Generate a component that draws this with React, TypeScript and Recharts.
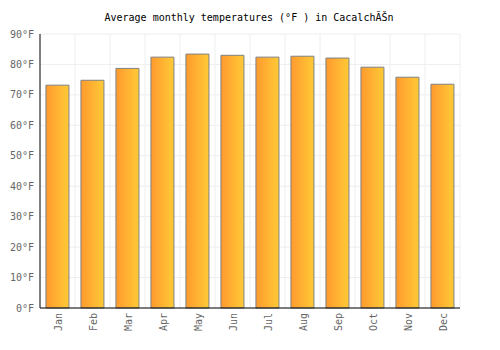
import { BarChart, Bar, XAxis, YAxis, CartesianGrid } from 'recharts'

const months = ['Jan', 'Feb', 'Mar', 'Apr', 'May', 'Jun', 'Jul', 'Aug', 'Sep', 'Oct', 'Nov', 'Dec']
const temps = [73.2, 74.8, 78.7, 82.4, 83.4, 83.0, 82.4, 82.7, 82.1, 79.1, 75.8, 73.5]
const yTicks = [0, 10, 20, 30, 40, 50, 60, 70, 80, 90]

const data = months.map((m, i) => ({ month: m, temp: temps[i] }))

const FONT = '"DejaVu Sans Mono", monospace'

function MonthTick({ x, y, payload }: any) {
  const ty = y - 3
  return (
    <text
      x={x + 1}
      y={ty}
      transform={`rotate(-90 ${x + 1} ${ty})`}
      textAnchor="end"
      dominantBaseline="central"
      fill="#666"
      fontSize={10}
      fontFamily={FONT}
    >
      {payload.value}
    </text>
  )
}

export default function App() {
  return (
    <div style={{ position: 'absolute', left: 0, top: 0, width: 500, height: 350, background: '#fff' }}>
      <svg width={500} height={30} style={{ position: 'absolute', left: 0, top: 0 }}>
        <text x={249} y={21} textAnchor="middle" fontSize={10} fontFamily={FONT} fill="#000">
          Average monthly temperatures (°F ) in CacalchĂŠn
        </text>
      </svg>
      <BarChart
        width={500}
        height={350}
        data={data}
        margin={{ top: 34, right: 40, bottom: 0, left: 0 }}
        barCategoryGap="17%"
      >
        <defs>
          <linearGradient id="barFill" x1="0" y1="0" x2="1" y2="0">
            <stop offset="0%" stopColor="#ff9a2f" />
            <stop offset="100%" stopColor="#ffca36" />
          </linearGradient>
        </defs>
        <CartesianGrid
          stroke="#eeeeee"
          verticalCoordinatesGenerator={({ offset }: any) =>
            months.map((_, i) => offset.left + ((i + 1) * offset.width) / months.length)
          }
        />
        <XAxis
          dataKey="month"
          height={42}
          axisLine={{ stroke: '#000' }}
          tickLine={false}
          interval={0}
          tick={<MonthTick />}
        />
        <YAxis
          width={40}
          domain={[0, 90]}
          ticks={yTicks}
          tickFormatter={(v: number) => `${v}°F`}
          axisLine={{ stroke: '#000' }}
          tickLine={false}
          tickSize={4}
          tickMargin={2}
          tick={{ fill: '#666', fontSize: 10, fontFamily: FONT }}
        />
        <Bar dataKey="temp" fill="url(#barFill)" stroke="#808080" strokeWidth={1} isAnimationActive={false} />
      </BarChart>
    </div>
  )
}
